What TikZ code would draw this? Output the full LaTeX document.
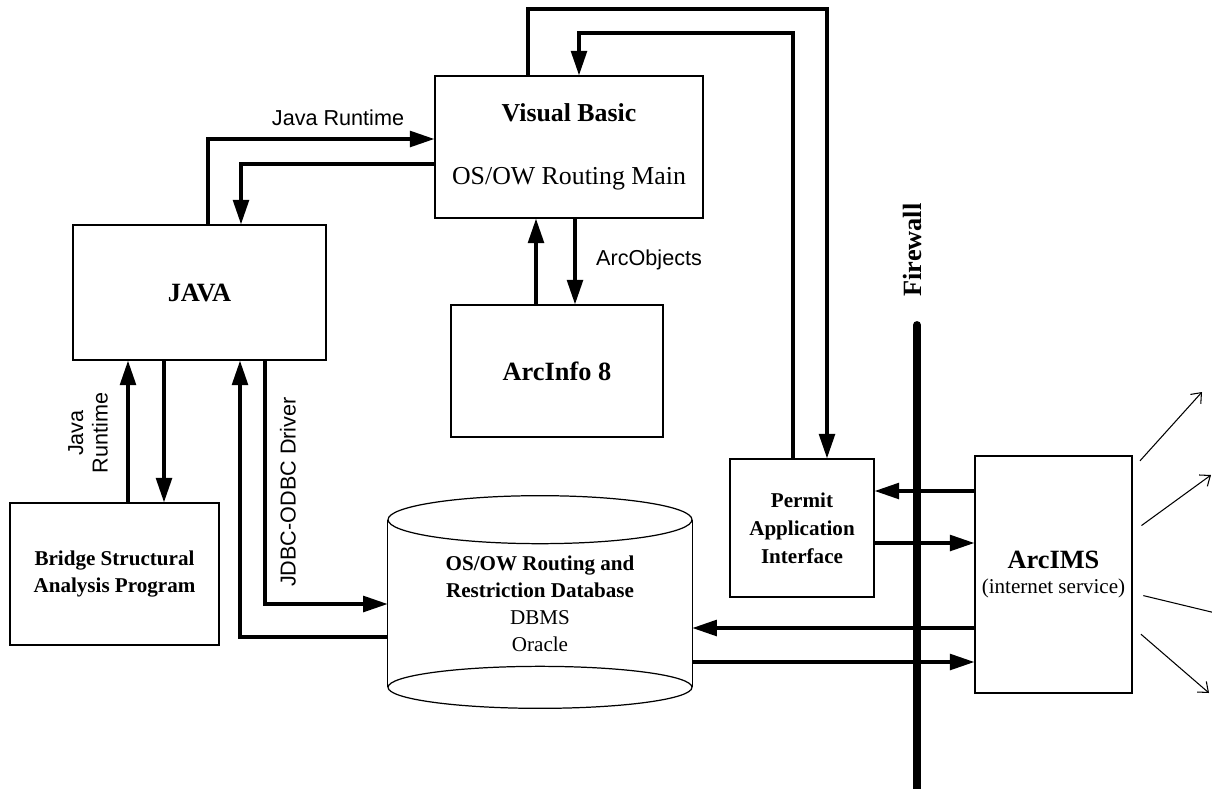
\documentclass[tikz,border=0pt]{standalone}
\usepackage{fontspec}
\setmainfont{Liberation Serif}
\setsansfont{Liberation Sans}
\usetikzlibrary{arrows.meta}

\begin{document}
\begin{tikzpicture}[x=0.02cm, y=-0.02cm,
    box/.style={draw, line width=0.7pt, align=center, inner sep=0pt},
    flow/.style={line width=1.9pt, -{Triangle[length=14pt,width=9pt]}},
    ray/.style={line width=0.6pt, shorten <=0.22cm, -{Straight Barb[length=5pt,width=8pt]}},
    lbl/.style={font=\sffamily\fontsize{12.3}{14}\selectfont},
    big/.style={font=\fontsize{15}{18}\selectfont\bfseries},
    bsmall/.style={font=\fontsize{12}{15.5}\selectfont\bfseries}]
  \useasboundingbox (0,0) rectangle (1212,788);
  % --- boxes ---
  \node[box, minimum width=5.36cm, minimum height=2.84cm, font=\fontsize{14.7}{18}\selectfont] (vb) at (569,147)
    {\textbf{Visual Basic}\\[17.7pt]OS/OW Routing Main};
  \node[box, big, minimum width=5.06cm, minimum height=2.70cm] (java) at (199.5,292.5) {JAVA};
  \node[box, big, minimum width=4.24cm, minimum height=2.64cm] (arcinfo) at (557,371) {ArcInfo 8};
  \node[box, bsmall, minimum width=4.18cm, minimum height=2.84cm] (bridge) at (114.5,574)
    {Bridge Structural\\Analysis Program};
  \node[box, bsmall, font=\fontsize{12}{16}\selectfont\bfseries, minimum width=2.88cm, minimum height=2.76cm] (permit) at (802,528)
    {Permit\\Application\\Interface};
  \node[box, font=\fontsize{12}{15}\selectfont, minimum width=3.14cm, minimum height=4.74cm] (arcims) at (1053.5,574.5)
    {{\fontsize{15}{18}\selectfont\bfseries ArcIMS}\\[-1pt](internet service)};
  % --- database ---
  \node[align=center, inner sep=0pt, font=\fontsize{12}{15.3}\selectfont,
        minimum width=6.08cm, minimum height=3.34cm] (db) at (540,603.5)
    {\textbf{OS/OW Routing and}\\\textbf{Restriction Database}\\DBMS\\Oracle};
  \draw[line width=0.7pt] (db.north west) -- (db.south west) (db.north east) -- (db.south east);
  \draw[line width=0.7pt] (db.north) ellipse [x radius=3.04cm, y radius=0.48cm];
  \draw[line width=0.7pt] (db.south) ellipse [x radius=3.04cm, y radius=0.42cm];
  % --- firewall ---
  \draw[line width=4.5pt, line cap=round] (917,325) -- (917,795);
  \node[big, rotate=90] (fwlabel) at (912,250) {Firewall};
  % --- labels ---
  \node[lbl] (jrtop) at (338,118) {Java Runtime};
  \node[lbl, anchor=west] (aobj) at (590,260) {ArcObjects};
  \node[lbl, rotate=90, align=center] (jrleft) at (88,433) {Java\\Runtime};
  \node[lbl, rotate=90] (jdbc) at (288,492) {JDBC-ODBC Driver};
  % --- connectors ---
  \draw[flow] (vb.north -| 528,0) |- (827,9) -- (permit.north -| 827,0);
  \draw[flow] (permit.north -| 793,0) |- (579,33) -- (vb.north -| 579,0);
  \draw[flow] (java.north -| 208,0) |- (vb.west |- 0,139);
  \draw[flow] (vb.west |- 0,164) -| (java.north -| 241,0);
  \draw[flow] (arcinfo.north -| 536,0) -- (vb.south -| 536,0);
  \draw[flow] (vb.south -| 575,0) -- (arcinfo.north -| 575,0);
  \draw[flow] (bridge.north -| 128,0) -- (java.south -| 128,0);
  \draw[flow] (java.south -| 164,0) -- (bridge.north -| 164,0);
  \draw[flow] (java.south -| 265,0) |- (db.west |- 0,604);
  \draw[flow] (db.west |- 0,637) -| (java.south -| 240,0);
  \draw[flow] (arcims.west |- 0,491) -- (permit.east |- 0,491);
  \draw[flow] (permit.east |- 0,543) -- (arcims.west |- 0,543);
  \draw[flow] (arcims.west |- 0,628) -- (db.east |- 0,628);
  \draw[flow] (db.east |- 0,662) -- (arcims.west |- 0,662);
  % --- outgoing service ---
  \coordinate (out1) at (1202,392);
  \coordinate (out2) at (1211,475);
  \coordinate (out3) at (1228,616);
  \coordinate (out4) at (1209,693);
  \draw[ray] (arcims.east |- 0,469) -- (out1);
  \draw[ray] (arcims.east |- 0,532) -- (out2);
  \draw[ray] (arcims.east |- 0,593) -- (out3);
  \draw[ray] (arcims.east |- 0,627) -- (out4);
\end{tikzpicture}
\end{document}
